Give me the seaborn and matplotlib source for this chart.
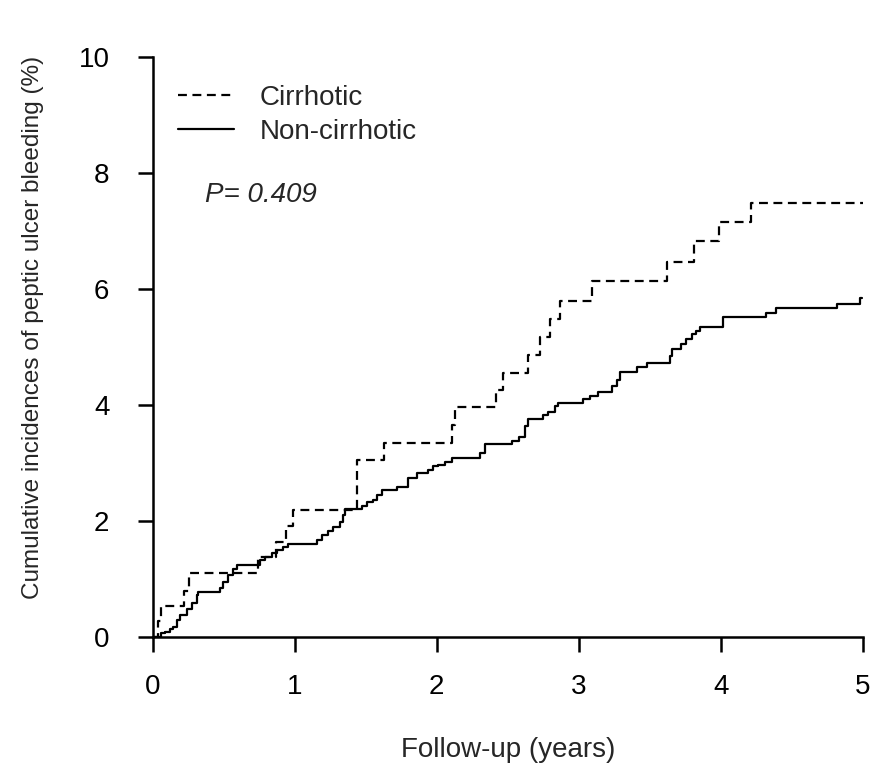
import matplotlib
matplotlib.use("Agg")
import matplotlib.pyplot as plt
import numpy as np
import pandas as pd
import seaborn as sns

# step points (years, cumulative %)
cirr_time = [0.0, 0.04, 0.06, 0.22, 0.26, 0.74, 0.87, 0.94, 0.99, 1.44, 1.63,
             2.105, 2.13, 2.42, 2.47, 2.64, 2.73, 2.80, 2.87, 3.09, 3.62, 3.81,
             3.99, 4.21, 5.0]
cirr_cum = [0.0, 0.27, 0.53, 0.80, 1.10, 1.38, 1.64, 1.91, 2.19, 3.06, 3.35,
            3.66, 3.96, 4.26, 4.56, 4.86, 5.17, 5.49, 5.80, 6.13, 6.47, 6.82,
            7.16, 7.49, 7.49]

noncirr_time = [0.0, 0.06, 0.088, 0.123, 0.146, 0.170, 0.194, 0.241, 0.276,
                0.311, 0.322, 0.475, 0.498, 0.533, 0.569, 0.593, 0.757, 0.792,
                0.839, 0.874, 0.920, 0.956, 1.156, 1.191, 1.237, 1.272, 1.320,
                1.343, 1.355, 1.472, 1.507, 1.554, 1.578, 1.613, 1.718, 1.800,
                1.859, 1.941, 1.976, 2.011, 2.058, 2.106, 2.305, 2.340, 2.528,
                2.579, 2.621, 2.645, 2.750, 2.785, 2.833, 2.856, 3.032, 3.079,
                3.132, 3.234, 3.267, 3.290, 3.410, 3.478, 3.642, 3.656, 3.719,
                3.754, 3.797, 3.825, 3.853, 4.017, 4.317, 4.388, 4.815, 4.982,
                4.99]
noncirr_cum = [0.0, 0.07, 0.09, 0.13, 0.18, 0.29, 0.38, 0.49, 0.58,
               0.72, 0.78, 0.84, 0.95, 1.07, 1.18, 1.24, 1.33, 1.38,
               1.44, 1.50, 1.56, 1.60, 1.67, 1.76, 1.82, 1.90, 1.99,
               2.10, 2.20, 2.26, 2.32, 2.36, 2.45, 2.53, 2.58, 2.75,
               2.82, 2.88, 2.94, 2.97, 3.02, 3.08, 3.18, 3.33, 3.38,
               3.45, 3.63, 3.76, 3.83, 3.88, 3.98, 4.04, 4.10, 4.16,
               4.23, 4.32, 4.43, 4.57, 4.66, 4.72, 4.84, 4.97, 5.05,
               5.14, 5.22, 5.28, 5.35, 5.51, 5.58, 5.67, 5.75, 5.84,
               5.84]

groups = ["Cirrhotic", "Non-cirrhotic"]
x_ticks = [0, 1, 2, 3, 4, 5]
y_ticks = [0, 2, 4, 6, 8, 10]

df = pd.concat([
    pd.DataFrame({"time": cirr_time, "cum": cirr_cum, "group": groups[0]}),
    pd.DataFrame({"time": noncirr_time, "cum": noncirr_cum, "group": groups[1]}),
])

sns.set_style("ticks")
plt.rcParams["font.family"] = ["Liberation Sans", "DejaVu Sans"]
fs = 20

fig = plt.figure(figsize=(8.75, 7.78), dpi=100)
ax = fig.add_axes([152.5 / 875, 141 / 778, 710.5 / 875, 580 / 778])

sns.lineplot(data=df, x="time", y="cum", style="group", style_order=groups,
             dashes={"Cirrhotic": (4.0, 2.5), "Non-cirrhotic": ""},
             color="black", linewidth=1.6, drawstyle="steps-post",
             estimator=None, ax=ax, legend=True)

ax.set_xlim(0, 5)
ax.set_ylim(0, 10)
ax.set_xticks(x_ticks)
ax.set_yticks(y_ticks)
ax.tick_params(axis="both", labelsize=fs, length=11, width=1.8, direction="out",
               colors="black")
ax.tick_params(axis="x", pad=16)
ax.tick_params(axis="y", pad=20)
sns.despine(ax=ax)
for s in ["left", "bottom"]:
    ax.spines[s].set_linewidth(1.8)
    ax.spines[s].set_color("black")

ax.set_xlabel("Follow-up (years)", fontsize=fs)
ax.set_ylabel("Cumulative incidences of peptic ulcer bleeding (%)", fontsize=17.5)
ax.xaxis.set_label_coords(0.5, -0.172)
ax.yaxis.set_label_coords(-0.153, 0.533)

handles, labels = ax.get_legend_handles_labels()
h = [handles[labels.index(g)] for g in groups]
leg = ax.legend(h, groups, loc="upper left", bbox_to_anchor=(0.036, 0.952),
                frameon=False, fontsize=fs, handlelength=2.0, handletextpad=0.95,
                labelspacing=0.3, borderpad=0, borderaxespad=0)
for line in leg.get_lines():
    line.set_linewidth(1.6)

ax.text(0.37, 7.62, "P= 0.409", fontsize=fs, style="italic", ha="left",
        va="center")

fig.savefig("out.png", dpi=100)
